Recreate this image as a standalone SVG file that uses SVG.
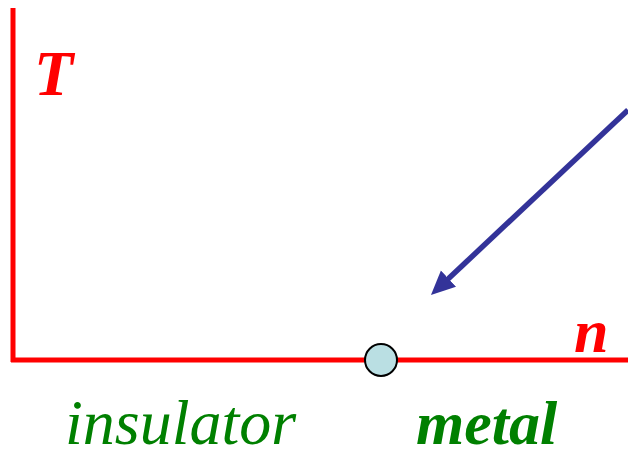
<svg xmlns="http://www.w3.org/2000/svg" width="628" height="452" viewBox="0 0 628 452">
<style>
.axis{stroke:#FF0000;stroke-width:5;fill:none}
.lbl{font-family:"Liberation Serif",serif;font-style:italic}
</style>
<defs>
<marker id="ah" markerUnits="userSpaceOnUse" markerWidth="30" markerHeight="30" refX="2" refY="11" orient="auto">
<path d="M0,0 L24,11 L0,22 Z" fill="#333399"/>
</marker>
</defs>
<g id="connectors">
<line x1="628" y1="110" x2="447" y2="280" stroke="#333399" stroke-width="5.5" marker-end="url(#ah)"/>
</g>
<g id="axes">
<line class="axis" x1="13" y1="8" x2="13" y2="362"/>
<line class="axis" x1="11" y1="360" x2="628" y2="360"/>
</g>
<g id="point">
<circle cx="381" cy="360" r="16" fill="#BADFE3" stroke="#000" stroke-width="2"/>
</g>
<g id="labels">
<text class="lbl" x="34" y="95" font-size="64" font-weight="bold" fill="#FF0000">T</text>
<text class="lbl" x="574" y="352" font-size="62" font-weight="bold" fill="#FF0000">n</text>
<text class="lbl" x="65" y="444" font-size="64" fill="#008000">insulator</text>
<text class="lbl" x="416" y="444" font-size="62" font-weight="bold" fill="#008000">metal</text>
</g>
</svg>
